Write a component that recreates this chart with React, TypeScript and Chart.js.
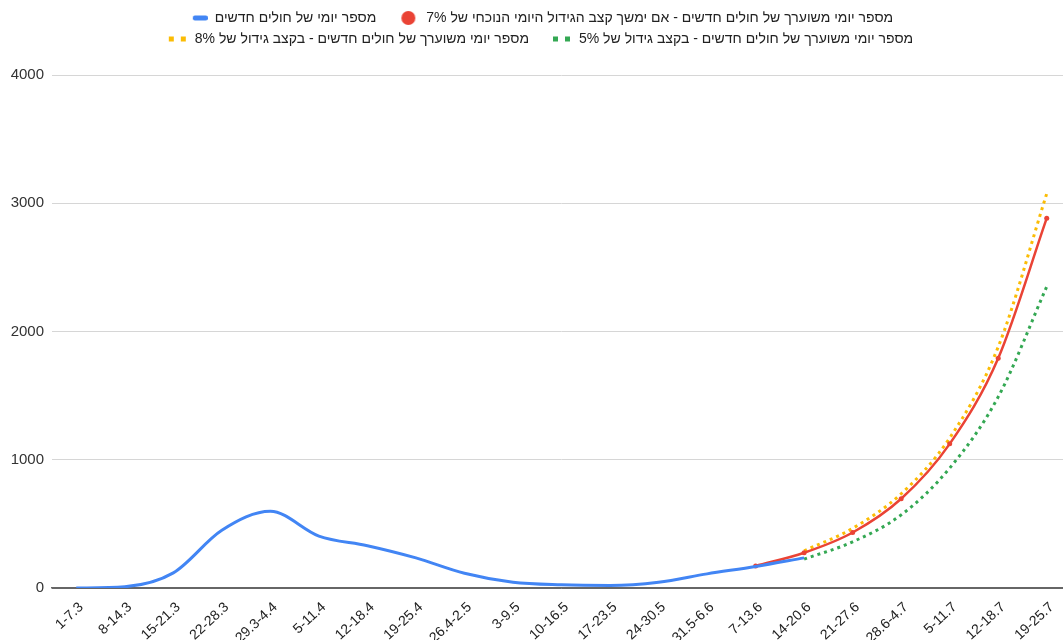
import React, { useEffect, useRef } from "react";
import { Chart, registerables } from "chart.js";

Chart.register(...registerables);

const weeks: string[] = [
  "1-7.3", "8-14.3", "15-21.3", "22-28.3", "29.3-4.4", "5-11.4", "12-18.4",
  "19-25.4", "26.4-2.5", "3-9.5", "10-16.5", "17-23.5", "24-30.5", "31.5-6.6",
  "7-13.6", "14-20.6", "21-27.6", "28.6-4.7", "5-11.7", "12-18.7", "19-25.7",
];

const actualCases: (number | null)[] = [
  0, 10, 118, 450, 598, 405, 330, 235, 115, 45, 25, 20, 45, 110, 168, 235,
  null, null, null, null, null,
];

const projected7: (number | null)[] = [
  null, null, null, null, null, null, null, null, null, null, null, null, null, null,
  172, 275, 433, 696, 1124, 1792, 2884,
];

const projected8: (number | null)[] = [
  null, null, null, null, null, null, null, null, null, null, null, null, null, null,
  null, 290, 465, 735, 1170, 1880, 3075,
];

const projected5: (number | null)[] = [
  null, null, null, null, null, null, null, null, null, null, null, null, null, null,
  null, 225, 360, 570, 935, 1490, 2350,
];

const seriesLabels: string[] = [
  "מספר יומי של חולים חדשים",
  "מספר יומי משוערך של חולים חדשים - אם ימשך קצב הגידול היומי הנוכחי של 7%",
  "מספר יומי משוערך של חולים חדשים - בקצב גידול של 8%",
  "מספר יומי משוערך של חולים חדשים - בקצב גידול של 5%",
];

const yTicks: number[] = [0, 1000, 2000, 3000, 4000];

const BLUE = "#4285F4";
const RED = "#EA4335";
const YELLOW = "#FBBC04";
const GREEN = "#34A853";
const FONT = "'Liberation Sans', Arial, sans-serif";
const BOXW = 36;

function makeMarker(kind: string, color: string): HTMLCanvasElement {
  const c = document.createElement("canvas");
  c.width = BOXW;
  c.height = 16;
  const g = c.getContext("2d")!;
  g.fillStyle = color;
  if (kind === "bar") {
    const w = 15, h = 5, r = 2;
    const x = BOXW - w, y = 5.5;
    g.beginPath();
    g.moveTo(x + r, y);
    g.arcTo(x + w, y, x + w, y + h, r);
    g.arcTo(x + w, y + h, x, y + h, r);
    g.arcTo(x, y + h, x, y, r);
    g.arcTo(x, y, x + w, y, r);
    g.closePath();
    g.fill();
  } else if (kind === "circle") {
    g.beginPath();
    g.arc(BOXW - 11, 8, 7, 0, Math.PI * 2);
    g.fill();
  } else {
    g.fillRect(BOXW - 19, 5.5, 5, 5);
    g.fillRect(BOXW - 7, 5.5, 5, 5);
  }
  return c;
}

export default function App() {
  const canvasRef = useRef<HTMLCanvasElement | null>(null);

  useEffect(() => {
    document.body.style.margin = "0";
    document.body.style.overflow = "hidden";
    document.documentElement.style.overflow = "hidden";
    const canvas = canvasRef.current;
    if (!canvas) return;

    const markers = [
      makeMarker("bar", BLUE),
      makeMarker("circle", RED),
      makeMarker("dots", YELLOW),
      makeMarker("dots", GREEN),
    ];

    const legendFix = {
      id: "legendFix",
      afterInit(chart: any) {
        const lg = chart.legend;
        if (lg && !lg.__patched) {
          const origFit = lg.fit.bind(lg);
          lg.fit = function () {
            origFit();
            this.height = 71;
          };
          const origDraw = lg.draw.bind(lg);
          lg.draw = function () {
            const ctx = chart.ctx;
            ctx.save();
            ctx.translate(-5, 0);
            origDraw();
            ctx.restore();
          };
          lg.__patched = true;
        }
      },
    };

    const chart = new Chart(canvas, {
      type: "line",
      data: {
        labels: weeks,
        datasets: [
          {
            label: seriesLabels[0],
            data: actualCases,
            borderColor: BLUE,
            backgroundColor: BLUE,
            borderWidth: 3,
            pointRadius: 0,
            cubicInterpolationMode: "monotone",
          },
          {
            label: seriesLabels[1],
            data: projected7,
            borderColor: RED,
            backgroundColor: RED,
            borderWidth: 2.5,
            pointRadius: 2.5,
            pointBorderWidth: 0,
            cubicInterpolationMode: "monotone",
          },
          {
            label: seriesLabels[2],
            data: projected8,
            borderColor: YELLOW,
            backgroundColor: YELLOW,
            borderWidth: 3,
            borderDash: [3, 4],
            pointRadius: 0,
            cubicInterpolationMode: "monotone",
          },
          {
            label: seriesLabels[3],
            data: projected5,
            borderColor: GREEN,
            backgroundColor: GREEN,
            borderWidth: 3,
            borderDash: [3, 4],
            pointRadius: 0,
            cubicInterpolationMode: "monotone",
          },
        ],
      },
      options: {
        animation: false,
        responsive: false,
        maintainAspectRatio: false,
        spanGaps: false,
        layout: { padding: { top: 4, left: 0, right: 0, bottom: 0 } },
        plugins: {
          tooltip: { enabled: false },
          legend: {
            position: "top",
            labels: {
              usePointStyle: true,
              pointStyleWidth: BOXW,
              padding: 7,
              color: "#222",
              font: { family: FONT, size: 14 },
              generateLabels(chart: any) {
                const items = Chart.defaults.plugins.legend.labels.generateLabels(chart);
                items.forEach((it: any, i: number) => {
                  it.pointStyle = markers[i];
                  it.lineWidth = 0;
                });
                return items;
              },
            },
          },
        },
        scales: {
          x: {
            type: "category",
            offset: true,
            grid: { display: false, drawTicks: false },
            border: { display: true, color: "#666", width: 1.5 },
            ticks: {
              autoSkip: false,
              minRotation: 43,
              maxRotation: 43,
              padding: 11,
              labelOffset: 5,
              color: "#222",
              font: { family: FONT, size: 14 },
            },
            afterFit(scale: any) {
              scale.height = 52;
            },
          },
          y: {
            min: 0,
            max: 4000,
            afterBuildTicks(scale: any) {
              scale.ticks = yTicks.map((v) => ({ value: v }));
            },
            grid: {
              drawTicks: false,
              color: (ctx: any) => (ctx.tick && ctx.tick.value === 0 ? "#666" : "#d6d6d6"),
              lineWidth: 1,
            },
            border: { display: false },
            ticks: {
              padding: 8,
              color: "#333",
              font: { family: FONT, size: 15 },
              callback: (v: any) => String(v),
            },
            afterFit(scale: any) {
              scale.width = 52;
            },
          },
        },
      },
      plugins: [legendFix],
    });

    return () => chart.destroy();
  }, []);

  return (
    <div style={{ width: 1075, height: 640, position: "relative" }}>
      <canvas ref={canvasRef} width={1075} height={640} style={{ display: "block" }} />
    </div>
  );
}
